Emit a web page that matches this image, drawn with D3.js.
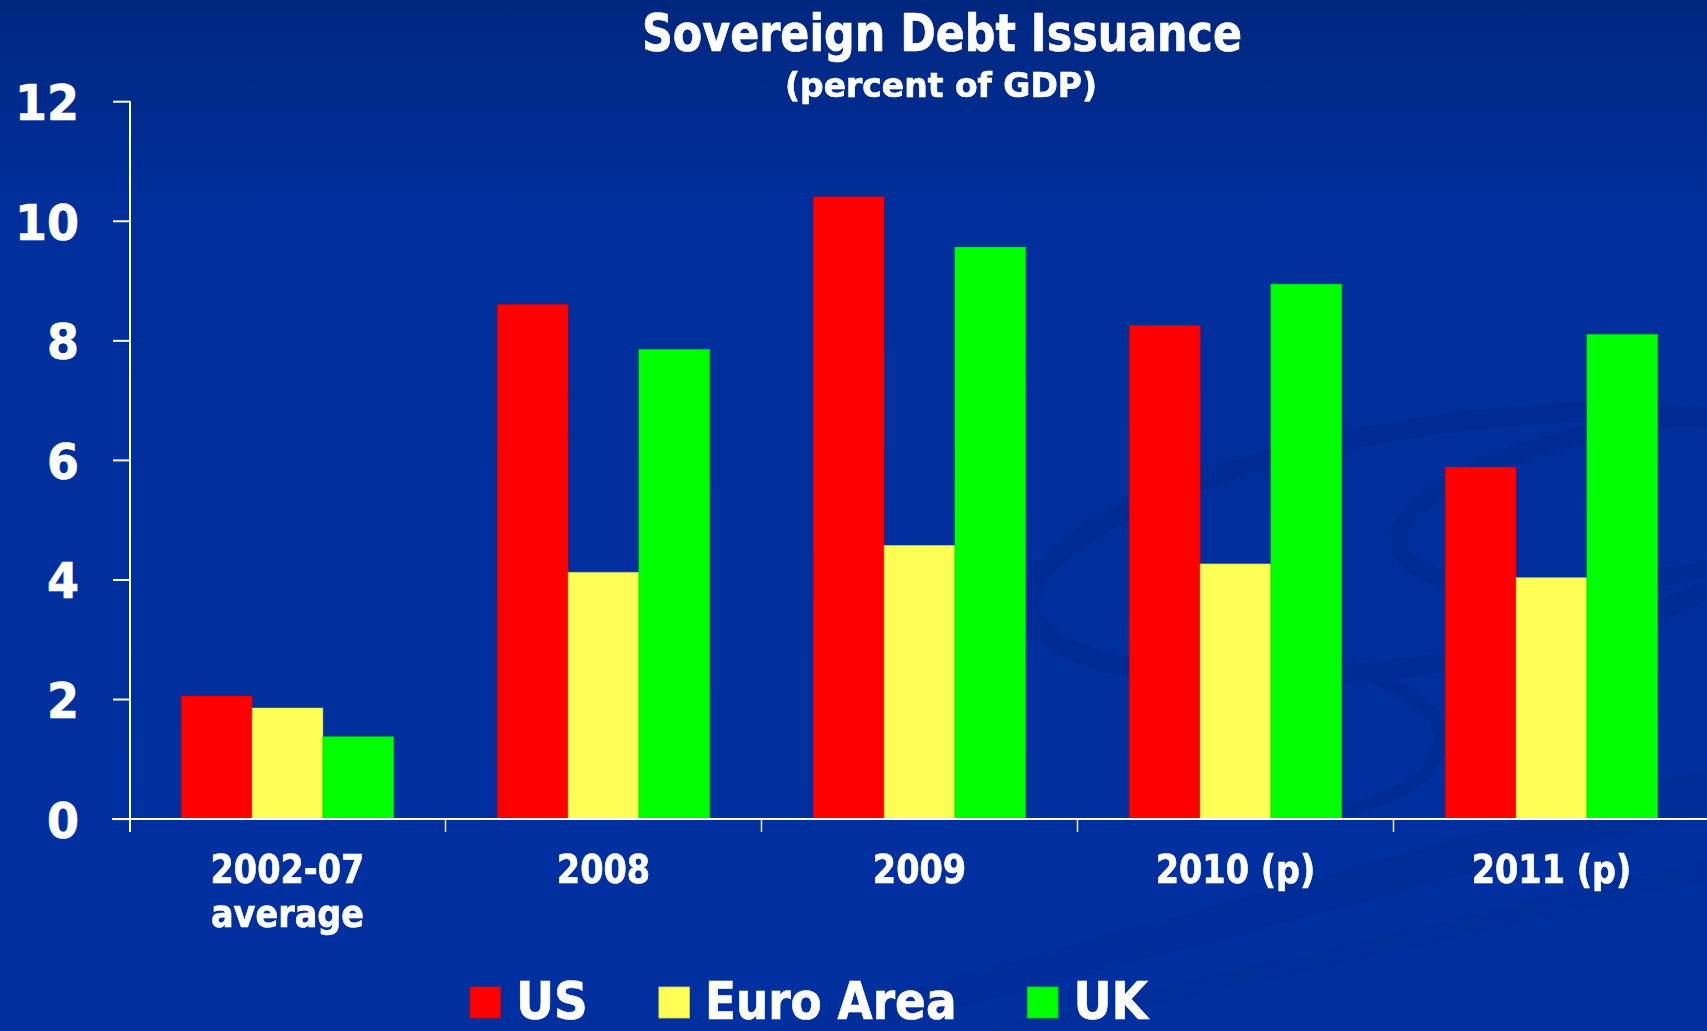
<!DOCTYPE html>
<html>
<head>
<meta charset="utf-8">
<title>Sovereign Debt Issuance</title>
<script src="https://cdn.jsdelivr.net/npm/d3@7"></script>
<style>
  html, body { margin: 0; padding: 0; background: #0030a0; overflow: hidden; }
  svg { display: block; }
</style>
</head>
<body>
<svg id="chart" width="1707" height="1031"></svg>
<script>
// ---- data ----
const categories = ["2002-07\naverage", "2008", "2009", "2010 (p)", "2011 (p)"];
const seriesNames = ["US", "Euro Area", "UK"];
const usValues   = [2.05, 8.60, 10.40, 8.25, 5.88];
const euroValues = [1.85, 4.12, 4.57, 4.26, 4.03];
const ukValues   = [1.37, 7.85, 9.56, 8.94, 8.10];
const yTickValues = [0, 2, 4, 6, 8, 10, 12];
const seriesColors = ["#ff0000", "#ffff55", "#00ff00"];

// ---- setup ----
const W = 1707, H = 1031;
const FONT = "'DejaVu Sans', Verdana, sans-serif";
const svg = d3.select("#chart");

// shared bold white text style (a thin stroke makes the glyphs a little heavier)
function boldWhite(sel, size) {
  return sel.attr("fill", "#ffffff").attr("stroke", "#ffffff").attr("stroke-width", 0.7)
    .attr("font-family", FONT).attr("font-weight", "bold").attr("font-size", size);
}

// ---- background ----
const defs = svg.append("defs");
const grad = defs.append("linearGradient").attr("id", "bg")
  .attr("x1", 0).attr("y1", 0).attr("x2", 0).attr("y2", 1);
grad.append("stop").attr("offset", "0").attr("stop-color", "#00277f");
grad.append("stop").attr("offset", "0.2").attr("stop-color", "#002f9b");
grad.append("stop").attr("offset", "1").attr("stop-color", "#0030a0");
svg.append("rect").attr("width", W).attr("height", H).attr("fill", "url(#bg)");

// faint swirl ornament in the lower right
const deco = svg.append("g").attr("fill", "none").attr("stroke", "#002b90")
  .attr("stroke-linecap", "round").attr("opacity", 0.6);
deco.append("ellipse").attr("cx", 1430).attr("cy", 545).attr("rx", 405).attr("ry", 118)
  .attr("transform", "rotate(-9 1430 545)").attr("stroke-width", 20);
deco.append("ellipse").attr("cx", 1650).attr("cy", 500).attr("rx", 255).attr("ry", 78)
  .attr("transform", "rotate(-10 1650 500)").attr("stroke-width", 18);
deco.append("path").attr("d", "M1260,640 C1360,665 1450,700 1440,745 C1432,780 1390,800 1340,812")
  .attr("stroke-width", 14);
svg.append("path").attr("d", "M760,1031 L1707,770 L1707,812 L870,1031 Z")
  .attr("fill", "#002b90").attr("opacity", 0.45);
svg.append("path").attr("d", "M980,1031 L1707,860 L1707,880 L1040,1031 Z")
  .attr("fill", "#002b90").attr("opacity", 0.35);

// ---- scales ----
const x0 = d3.scaleBand().domain(categories).range([129.5, 1709.5])
  .paddingInner(0.328).paddingOuter(0.164);
const x1 = d3.scaleBand().domain(seriesNames).range([0, x0.bandwidth()]);
const y = d3.scaleLinear().domain([0, 12]).range([818.6, 101.2]);
const color = d3.scaleOrdinal().domain(seriesNames).range(seriesColors);

const rows = categories.map((c, i) => ({
  cat: c,
  values: [
    { s: "US", v: usValues[i] },
    { s: "Euro Area", v: euroValues[i] },
    { s: "UK", v: ukValues[i] }
  ]
}));

// ---- bars ----
const groups = svg.append("g").selectAll("g").data(rows).join("g")
  .attr("transform", d => `translate(${x0(d.cat)},0)`);
groups.selectAll("rect").data(d => d.values).join("rect")
  .attr("x", d => x1(d.s))
  .attr("y", d => y(d.v))
  .attr("width", x1.bandwidth())
  .attr("height", d => y(0) - y(d.v))
  .attr("fill", d => color(d.s))
  .attr("stroke", d => d3.color(color(d.s)).darker(0.5))
  .attr("stroke-width", 0.8)
  .attr("stroke-opacity", 0.6);

// ---- y axis ----
const yAxis = svg.append("g").attr("transform", "translate(130,0)")
  .call(d3.axisLeft(y).tickValues(yTickValues).tickSize(17).tickPadding(34)
    .tickFormat(d3.format("d")));
yAxis.select(".domain").remove();
yAxis.selectAll(".tick line").attr("stroke", "#ffffff").attr("stroke-width", 2);
yAxis.selectAll(".tick text").call(boldWhite, 50).attr("dy", "0.37em")
  .each(function () {
    const len = this.getComputedTextLength() * 0.92;
    d3.select(this).attr("textLength", len).attr("lengthAdjust", "spacingAndGlyphs");
  });

svg.append("line").attr("x1", 130).attr("x2", 130).attr("y1", 101).attr("y2", 832)
  .attr("stroke", "#ffffff").attr("stroke-width", 2);

// ---- x axis ----
svg.append("line").attr("x1", 112).attr("x2", W).attr("y1", y(0) + 0.5).attr("y2", y(0) + 0.5)
  .attr("stroke", "#ffffff").attr("stroke-width", 2);
const step = x0.step();
const boundaries = categories.map(c => x0(c) - step * x0.paddingOuter());
svg.append("g").selectAll("line").data(boundaries.slice(1)).join("line")
  .attr("x1", d => d).attr("x2", d => d)
  .attr("y1", y(0)).attr("y2", 832)
  .attr("stroke", "#e8ecf8").attr("stroke-width", 1.5);

const xLabels = svg.append("g");
categories.forEach(c => {
  const cx = x0(c) + x0.bandwidth() / 2;
  c.split("\n").forEach((line, j) => {
    const t = xLabels.append("text").attr("y", 882.5 + j * 44.5).call(boldWhite, 39).text(line);
    const len = t.node().getComputedTextLength() * 0.86;
    t.attr("x", cx - len / 2).attr("textLength", len).attr("lengthAdjust", "spacingAndGlyphs");
  });
});

// ---- title ----
svg.append("text").attr("x", 642).attr("y", 51).call(boldWhite, 51)
  .attr("textLength", 600).attr("lengthAdjust", "spacingAndGlyphs")
  .text("Sovereign Debt Issuance");
svg.append("text").attr("x", 785).attr("y", 97).call(boldWhite, 34)
  .attr("textLength", 312).attr("lengthAdjust", "spacingAndGlyphs")
  .text("(percent of GDP)");

// ---- legend ----
const legend = svg.append("g");
let lx = 470;
seriesNames.forEach(s => {
  legend.append("rect").attr("x", lx).attr("y", 987).attr("width", 30.5).attr("height", 31)
    .attr("fill", color(s)).attr("stroke", d3.color(color(s)).darker(0.5)).attr("stroke-width", 0.8);
  const t = legend.append("text").attr("x", lx + 46).attr("y", 1019).call(boldWhite, 51).text(s);
  const len = t.node().getComputedTextLength() * (s === "Euro Area" ? 0.89 : 0.92);
  t.attr("textLength", len).attr("lengthAdjust", "spacingAndGlyphs");
  lx += 46 + len + 71;
});
</script>
</body>
</html>
